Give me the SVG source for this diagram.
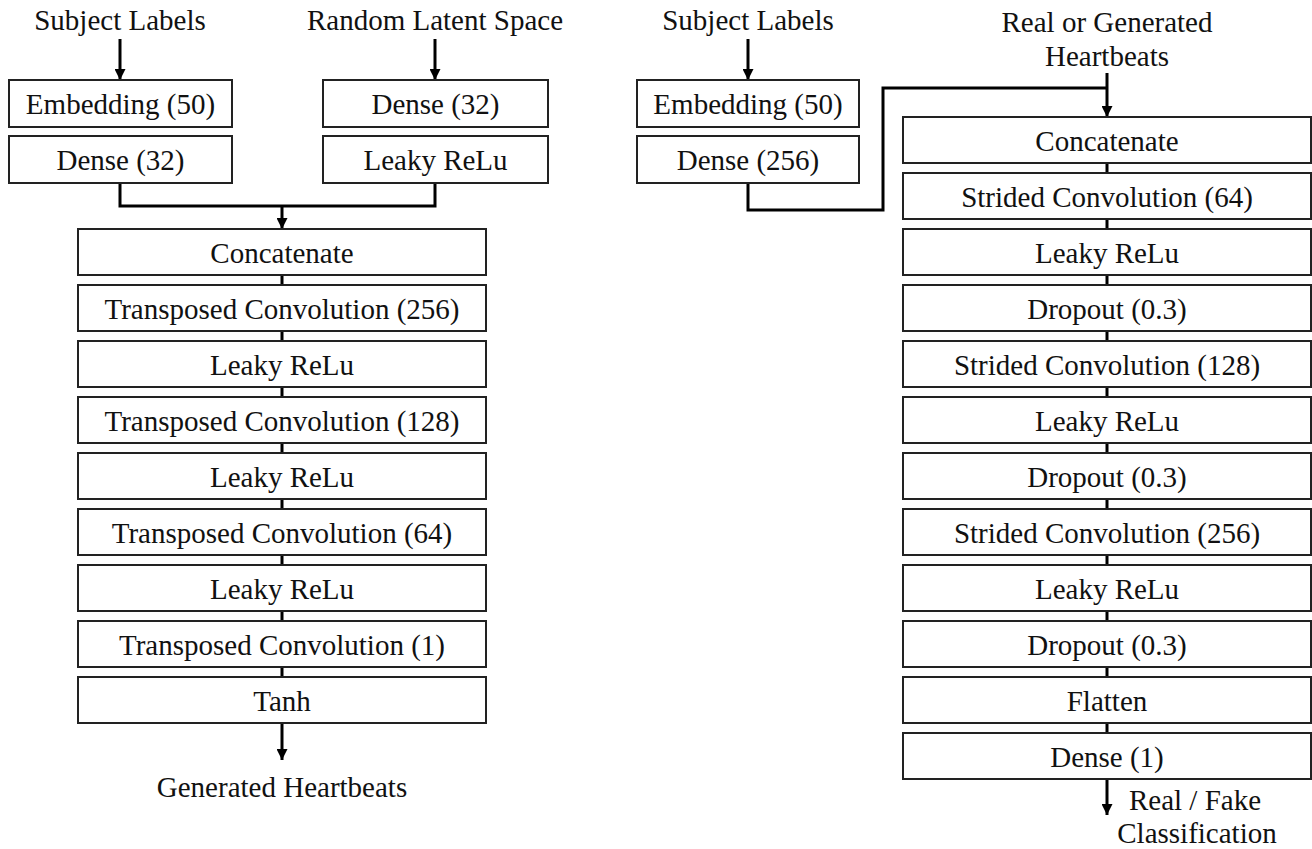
<svg xmlns="http://www.w3.org/2000/svg" width="1312" height="849" viewBox="0 0 1312 849">
<style>
.box{fill:#fff;stroke:#222;stroke-width:2}
.t{font-family:"Liberation Serif","Times New Roman",serif;font-size:29px;fill:#111;text-anchor:middle}
.c{fill:none;stroke:#000;stroke-width:3}
</style>
<defs>
<marker id="ah" viewBox="0 0 10 10" refX="10" refY="5" markerWidth="11" markerHeight="11" markerUnits="userSpaceOnUse" orient="auto">
<path d="M0,0 L10,5 L0,10 z" fill="#000"/>
</marker>
</defs>
<rect width="1312" height="849" fill="#fff"/>
<g id="connectors">
<line class="c" x1="120" y1="39" x2="120" y2="80" marker-end="url(#ah)"/>
<line class="c" x1="435" y1="39" x2="435" y2="80" marker-end="url(#ah)"/>
<line class="c" x1="748" y1="39" x2="748" y2="80" marker-end="url(#ah)"/>
<polyline class="c" points="120,183 120,206 435,206 435,183"/>
<line class="c" x1="282" y1="206" x2="282" y2="229" marker-end="url(#ah)"/>
<polyline class="c" points="748,183 748,210 883,210 883,88 1107,88"/>
<line class="c" x1="1107" y1="73" x2="1107" y2="117" marker-end="url(#ah)"/>
<path class="c" d="M282,275V285M282,331V341M282,387V397M282,443V453M282,499V509M282,555V565M282,611V621M282,667V677"/>
<path class="c" d="M1107,163V173M1107,219V229M1107,275V285M1107,331V341M1107,387V397M1107,443V453M1107,499V509M1107,555V565M1107,611V621M1107,667V677M1107,723V733"/>
<line class="c" x1="282" y1="723" x2="282" y2="760" marker-end="url(#ah)"/>
<line class="c" x1="1107" y1="779" x2="1107" y2="815" marker-end="url(#ah)"/>
</g>
<g id="labels">
<text class="t" x="120" y="30">Subject Labels</text>
<text class="t" x="435" y="30">Random Latent Space</text>
<text class="t" x="748" y="30">Subject Labels</text>
<text class="t" x="1107" y="32">Real or Generated</text>
<text class="t" x="1107" y="66">Heartbeats</text>
<text class="t" x="282" y="797">Generated Heartbeats</text>
<text class="t" x="1195" y="810">Real / Fake</text>
<text class="t" x="1197" y="843">Classification</text>
</g>
<g id="g-embed"><rect class="box" x="9" y="80" width="223" height="47"/><text class="t" x="120.5" y="114">Embedding (50)</text></g>
<g id="g-dense32a"><rect class="box" x="9" y="136" width="223" height="47"/><text class="t" x="120.5" y="170">Dense (32)</text></g>
<g id="g-dense32b"><rect class="box" x="323" y="80" width="225" height="47"/><text class="t" x="435.5" y="114">Dense (32)</text></g>
<g id="g-lrelu0"><rect class="box" x="323" y="136" width="225" height="47"/><text class="t" x="435.5" y="170">Leaky ReLu</text></g>
<g id="d-embed"><rect class="box" x="637" y="80" width="222" height="47"/><text class="t" x="748" y="114">Embedding (50)</text></g>
<g id="d-dense256"><rect class="box" x="637" y="136" width="222" height="47"/><text class="t" x="748" y="170">Dense (256)</text></g>
<g id="g1"><rect class="box" x="78" y="229" width="408" height="46"/><text class="t" x="282" y="263">Concatenate</text></g>
<g id="g2"><rect class="box" x="78" y="285" width="408" height="46"/><text class="t" x="282" y="319">Transposed Convolution (256)</text></g>
<g id="g3"><rect class="box" x="78" y="341" width="408" height="46"/><text class="t" x="282" y="375">Leaky ReLu</text></g>
<g id="g4"><rect class="box" x="78" y="397" width="408" height="46"/><text class="t" x="282" y="431">Transposed Convolution (128)</text></g>
<g id="g5"><rect class="box" x="78" y="453" width="408" height="46"/><text class="t" x="282" y="487">Leaky ReLu</text></g>
<g id="g6"><rect class="box" x="78" y="509" width="408" height="46"/><text class="t" x="282" y="543">Transposed Convolution (64)</text></g>
<g id="g7"><rect class="box" x="78" y="565" width="408" height="46"/><text class="t" x="282" y="599">Leaky ReLu</text></g>
<g id="g8"><rect class="box" x="78" y="621" width="408" height="46"/><text class="t" x="282" y="655">Transposed Convolution (1)</text></g>
<g id="g9"><rect class="box" x="78" y="677" width="408" height="46"/><text class="t" x="282" y="711">Tanh</text></g>
<g id="d1"><rect class="box" x="903" y="117" width="408" height="46"/><text class="t" x="1107" y="151">Concatenate</text></g>
<g id="d2"><rect class="box" x="903" y="173" width="408" height="46"/><text class="t" x="1107" y="207">Strided Convolution (64)</text></g>
<g id="d3"><rect class="box" x="903" y="229" width="408" height="46"/><text class="t" x="1107" y="263">Leaky ReLu</text></g>
<g id="d4"><rect class="box" x="903" y="285" width="408" height="46"/><text class="t" x="1107" y="319">Dropout (0.3)</text></g>
<g id="d5"><rect class="box" x="903" y="341" width="408" height="46"/><text class="t" x="1107" y="375">Strided Convolution (128)</text></g>
<g id="d6"><rect class="box" x="903" y="397" width="408" height="46"/><text class="t" x="1107" y="431">Leaky ReLu</text></g>
<g id="d7"><rect class="box" x="903" y="453" width="408" height="46"/><text class="t" x="1107" y="487">Dropout (0.3)</text></g>
<g id="d8"><rect class="box" x="903" y="509" width="408" height="46"/><text class="t" x="1107" y="543">Strided Convolution (256)</text></g>
<g id="d9"><rect class="box" x="903" y="565" width="408" height="46"/><text class="t" x="1107" y="599">Leaky ReLu</text></g>
<g id="d10"><rect class="box" x="903" y="621" width="408" height="46"/><text class="t" x="1107" y="655">Dropout (0.3)</text></g>
<g id="d11"><rect class="box" x="903" y="677" width="408" height="46"/><text class="t" x="1107" y="711">Flatten</text></g>
<g id="d12"><rect class="box" x="903" y="733" width="408" height="46"/><text class="t" x="1107" y="767">Dense (1)</text></g>
</svg>
